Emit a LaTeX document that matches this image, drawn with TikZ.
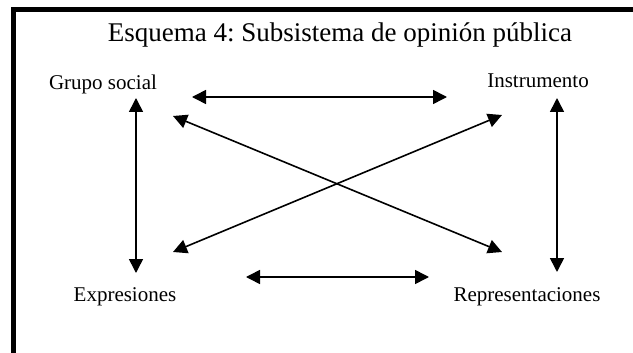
\documentclass[tikz,border=0pt]{standalone}
\usepackage{fontspec}
\setmainfont{Liberation Serif}
\usepackage{tikz}
\usetikzlibrary{arrows.meta}
\frenchspacing
\tikzstyle{heading} = [anchor=base, inner sep=0pt, font=\fontsize{27}{31}\selectfont]
\tikzstyle{concept} = [anchor=base, inner sep=0pt, font=\fontsize{21}{25}\selectfont]
\tikzstyle{biarrow} = [line width=1.6pt, {Triangle[length=14pt,width=14pt]}-{Triangle[length=14pt,width=14pt]}]

\begin{document}
\begin{tikzpicture}[x=1pt, y=-1pt]
\clip (0,0) rectangle (633,353);
\fill[white] (0,0) rectangle (633,353);

% Frame
\draw [line width=5pt, line join=miter] (13.5,360) -- (13.5,9.5) -- (640,9.5);

% Title
\node (title) [heading] at (340,42) {Esquema 4: Subsistema de opinión pública};

% Corners
\node (grupo) [concept] at (103,90) {Grupo social};
\node (instr) [concept] at (538,88) {Instrumento};
\node (expr) [concept] at (125,301) {Expresiones};
\node (repr) [concept] at (527,301) {Representaciones};

% Arrows
\draw [biarrow] ([shift={(89,7)}]grupo.base) -- ([shift={(-91,9)}]instr.base);
\draw [biarrow] ([shift={(121,-24)}]expr.base) -- ([shift={(-98,-24)}]repr.base);
\draw [biarrow] ([shift={(33,8)}]grupo.base) -- ([shift={(11,-28)}]expr.base);
\draw [biarrow] ([shift={(19,10)}]instr.base) -- ([shift={(30,-29)}]repr.base);
\draw [biarrow] ([shift={(70,26)}]grupo.base) -- ([shift={(-25,-49)}]repr.base);
\draw [biarrow] ([shift={(48,-49)}]expr.base) -- ([shift={(-36,27)}]instr.base);

\end{tikzpicture}
\end{document}
